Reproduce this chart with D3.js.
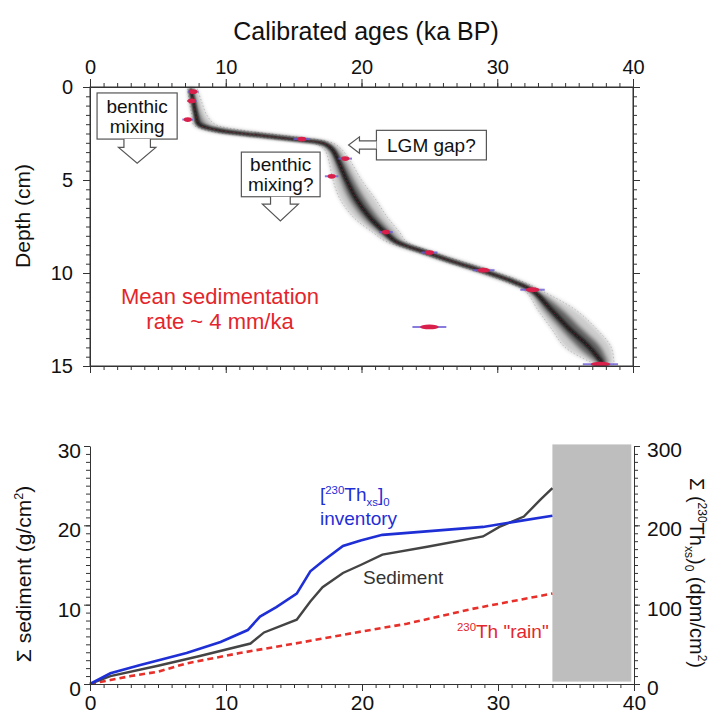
<!DOCTYPE html>
<html>
<head>
<meta charset="utf-8">
<script src="https://cdn.jsdelivr.net/npm/d3@7"></script>
<style>
  body { margin: 0; background: #fff; }
  text { font-family: "Liberation Sans", Arial, sans-serif; }
</style>
</head>
<body>
<div id="chart"></div>
<script>
// ---- top panel: age-depth model ----
var depths  = [0.1, 0.75, 1.5, 2.0, 2.3, 2.6, 2.85, 3.05, 3.4, 4.0, 5.0, 6.0, 7.0, 7.8, 8.3, 8.9, 9.4, 9.9, 10.5, 11.0, 12.0, 13.0, 14.0, 14.9];
var ageMed  = [7.4, 7.6, 7.8, 8.0, 9.3, 12.5, 15.5, 17.3, 17.9, 18.3, 18.9, 19.6, 20.6, 21.7, 22.5, 24.8, 26.8, 29.0, 31.3, 32.7, 34.0, 35.3, 36.8, 37.8];
var ageLo95 = [7.2, 7.3, 7.5, 7.6, 8.4, 11.2, 14.5, 16.6, 17.3, 17.6, 17.9, 18.4, 19.4, 20.8, 21.8, 24.2, 26.2, 28.4, 30.7, 32.1, 33.0, 34.0, 35.0, 37.2];
var ageHi95 = [7.9, 8.2, 8.6, 9.2, 11.0, 14.2, 16.9, 18.0, 18.6, 19.2, 20.0, 21.0, 21.9, 22.8, 23.3, 25.4, 27.5, 29.7, 32.0, 33.4, 35.8, 37.3, 38.4, 38.6];
var ageLo68 = [7.3, 7.45, 7.65, 7.8, 8.9, 12.0, 15.1, 17.0, 17.6, 18.0, 18.5, 19.1, 20.1, 21.3, 22.2, 24.5, 26.5, 28.7, 31.0, 32.4, 33.5, 34.7, 36.0, 37.5];
var ageHi68 = [7.6, 7.8, 8.1, 8.5, 9.9, 13.2, 16.0, 17.6, 18.2, 18.7, 19.4, 20.2, 21.2, 22.2, 22.9, 25.1, 27.1, 29.3, 31.6, 33.0, 34.8, 36.2, 37.6, 38.2];

// radiocarbon dates (calibrated age, depth, half-width)
var dateAge   = [7.6, 7.5, 7.2, 15.6, 18.8, 17.8, 21.8, 25.0, 29.0, 32.6, 25.0, 37.6];
var dateDepth = [0.25, 0.75, 1.75, 2.8, 3.85, 4.8, 7.8, 8.9, 9.85, 10.9, 12.9, 14.9];
var dateErr   = [0.4, 0.35, 0.4, 0.6, 0.5, 0.5, 0.5, 0.6, 0.8, 0.9, 1.25, 1.3];

var ageTicks = [0, 10, 20, 30, 40];
var depthTicks = [0, 5, 10, 15];

// ---- bottom panel: cumulative inventories ----
var sedAge = [0, 1.5, 5, 8, 11.8, 12.8, 15.2, 16.2, 17.1, 18.6, 19.9, 21.5, 24.8, 28.9, 30.1, 31.9, 33.1, 34.0];
var sedSum = [0, 1.0, 2.3, 3.5, 5.1, 6.5, 8.1, 10.4, 12.2, 14.0, 15.0, 16.3, 17.3, 18.6, 19.8, 21.1, 23.2, 24.7];

var thAge = [0, 1.5, 3.7, 7.1, 9.6, 11.6, 12.5, 13.7, 15.2, 16.2, 17.2, 18.6, 19.9, 21.5, 28.9, 31.4, 34.0];
var thSum = [0, 13.5, 24, 39, 53, 68, 85, 97, 114, 142, 156, 174, 181, 188, 198, 205, 212];

var rainAge = [0, 1.5, 3, 5, 7.1, 11, 15.4, 19.9, 23.3, 28.2, 34.0];
var rainSum = [0, 5, 10, 15.5, 26, 39, 52, 66, 76, 95, 114];

var gapStart = 34.0, gapEnd = 39.8;
var sedTicks = [0, 10, 20, 30];
var thTicks = [0, 100, 200, 300];

var width = 714, height = 713;
var font = '"Liberation Sans", Arial, sans-serif';

var svg = d3.select('#chart').append('svg').
  attr('width', width).
  attr('height', height);

var defs = svg.append('defs');
defs.append('filter').attr('id', 'soft').
  attr('x', '-20%').attr('y', '-20%').attr('width', '140%').attr('height', '140%').
  append('feGaussianBlur').attr('stdDeviation', 2.2);
defs.append('filter').attr('id', 'soft2').
  append('feGaussianBlur').attr('stdDeviation', 0.9);

var xTop = d3.scaleLinear().domain([0, 40]).range([90, 633]);
var yTop = d3.scaleLinear().domain([0, 15]).range([87, 366]);
var xBot = d3.scaleLinear().domain([0, 40]).range([90, 634]);
var yBotL = d3.scaleLinear().domain([0, 30]).range([684, 446]);
var yBotR = d3.scaleLinear().domain([0, 300]).range([684, 446]);

function styleAxis(g, size) {
  g.attr('font-family', font).attr('font-size', size || 20);
  g.selectAll('path, line').attr('stroke', '#333');
  g.selectAll('text').attr('fill', '#111');
}

// draw minor + major ticks for one axis
function axisPair(axisFn, scale, minor, major, pos, labels, opts) {
  opts = opts || {};
  var gMinor = svg.append('g').attr('transform', pos).
    call(axisFn(scale).tickValues(minor).tickSize(opts.minor || 4).tickSizeOuter(0).tickFormat(''));
  gMinor.select('.domain').remove();
  var ax = axisFn(scale).tickValues(major).tickSize(opts.major || 7).tickSizeOuter(0).
    tickPadding(opts.pad || 4);
  if (!labels) ax.tickFormat('');
  var g = svg.append('g').attr('transform', pos).call(ax);
  styleAxis(g, opts.font);
  styleAxis(gMinor);
  if (opts.dy) g.selectAll('text').attr('dy', opts.dy);
  return g;
}

// ===== top panel =====
var cloud = svg.append('g');
var rows = depths.map((d, i) => ({ d: d, m: ageMed[i], lo95: ageLo95[i], hi95: ageHi95[i], lo68: ageLo68[i], hi68: ageHi68[i] }));

var band = (lo, hi) => d3.area().
  y(r => yTop(r.d)).
  x0(r => xTop(r[lo])).
  x1(r => xTop(r[hi])).
  curve(d3.curveCatmullRom);

cloud.append('path').datum(rows).
  attr('d', band('lo95', 'hi95')).
  attr('fill', '#000').attr('opacity', 0.2).
  attr('filter', 'url(#soft)');
cloud.append('path').datum(rows).
  attr('d', band('lo95', 'hi95')).
  attr('fill', 'none').attr('stroke', '#aaa').attr('stroke-width', 0.7).
  attr('stroke-dasharray', '1.5,2');
cloud.append('path').datum(rows).
  attr('d', band('lo68', 'hi68')).
  attr('fill', '#000').attr('opacity', 0.55).
  attr('filter', 'url(#soft)');
cloud.append('path').datum(rows).
  attr('d', d3.line().y(r => yTop(r.d)).x(r => xTop(r.m)).curve(d3.curveCatmullRom)).
  attr('fill', 'none').attr('stroke', '#111').attr('stroke-width', 4).attr('opacity', 0.85).
  attr('filter', 'url(#soft2)');
cloud.append('path').datum(rows).
  attr('d', d3.line().y(r => yTop(r.d)).x(r => xTop(r.m)).curve(d3.curveCatmullRom)).
  attr('fill', 'none').attr('stroke', '#c03040').attr('stroke-width', 0.6).
  attr('stroke-dasharray', '2,2').attr('opacity', 0.6);

// dates
var dates = dateAge.map((a, i) => ({ a: a, d: dateDepth[i], e: dateErr[i] }));
svg.append('g').selectAll('line').data(dates).enter().append('line').
  attr('x1', d => xTop(d.a - d.e)).
  attr('x2', d => xTop(d.a + d.e)).
  attr('y1', d => yTop(d.d)).
  attr('y2', d => yTop(d.d)).
  attr('stroke', '#6b5bd6').attr('stroke-width', 2).attr('opacity', 0.8);
svg.append('g').selectAll('ellipse').data(dates).enter().append('ellipse').
  attr('cx', d => xTop(d.a)).
  attr('cy', d => yTop(d.d)).
  attr('rx', d => Math.max(4, (xTop(d.e) - xTop(0)) * 0.55)).
  attr('ry', 2.4).
  attr('fill', '#d8204a');

// frame + axes
svg.append('rect').
  attr('x', xTop(0)).attr('y', yTop(0)).
  attr('width', xTop(40) - xTop(0)).attr('height', yTop(15) - yTop(0)).
  attr('fill', 'none').attr('stroke', '#333');

axisPair(d3.axisTop, xTop, d3.range(0, 41, 1), ageTicks, 'translate(0,' + yTop(0) + ')', true, { major: 8, pad: 5 });
axisPair(d3.axisBottom, xTop, d3.range(0, 41, 1), ageTicks, 'translate(0,' + yTop(15) + ')', false, { major: 7 });
axisPair(d3.axisLeft, yTop, d3.range(0, 15.01, 0.5), depthTicks, 'translate(' + xTop(0) + ',0)', true, { major: 7, pad: 10 });
axisPair(d3.axisRight, yTop, d3.range(0, 15.01, 0.5), depthTicks, 'translate(' + xTop(40) + ',0)', false, { major: 7 });

svg.append('text').
  attr('x', 366).attr('y', 40).
  attr('text-anchor', 'middle').
  attr('font-size', 25).attr('fill', '#111').
  text('Calibrated ages (ka BP)');

svg.append('text').
  attr('transform', 'translate(30,216) rotate(-90)').
  attr('text-anchor', 'middle').
  attr('font-size', 21).attr('fill', '#111').
  text('Depth (cm)');

// annotation boxes with hollow arrows (placed in data units)
function noteBox(a0, a1, d0, d1, lines, size) {
  svg.append('rect').
    attr('x', xTop(a0)).attr('y', yTop(d0)).
    attr('width', xTop(a1) - xTop(a0)).attr('height', yTop(d1) - yTop(d0)).
    attr('fill', '#fff').attr('stroke', '#555').attr('stroke-width', 1.2);
  var cx = (xTop(a0) + xTop(a1)) / 2;
  var cy = (yTop(d0) + yTop(d1)) / 2;
  var t = svg.append('text').
    attr('x', cx).attr('y', cy - (lines.length - 1) * size * 0.52 + size * 0.36).
    attr('text-anchor', 'middle').attr('font-size', size).attr('fill', '#111');
  lines.forEach((l, i) => t.append('tspan').attr('x', cx).attr('dy', i ? size * 1.04 : 0).text(l));
}

function downArrow(s0, s1, h0, h1, top, neck, tip) {
  var tipAge = (s0 + s1) / 2;
  var pts = [[s0, top], [s0, neck], [h0, neck], [tipAge, tip], [h1, neck], [s1, neck], [s1, top]];
  svg.append('path').
    attr('d', d3.line().x(p => xTop(p[0])).y(p => yTop(p[1]))(pts)).
    attr('fill', '#fff').attr('stroke', '#555').attr('stroke-width', 1.2);
}

noteBox(0.52, 6.42, 0.32, 2.8, ['benthic', 'mixing'], 19);
downArrow(2.5, 4.45, 2.1, 4.85, 2.8, 3.25, 4.1);

noteBox(11.15, 16.95, 3.5, 5.9, ['benthic', 'mixing?'], 19);
downArrow(13.3, 14.75, 12.7, 15.35, 5.9, 6.3, 7.2);

noteBox(21.1, 29.2, 2.33, 3.92, ['LGM gap?'], 19);
(function () {
  var pts = [[21.1, 2.9], [19.85, 2.9], [19.85, 2.68], [19.05, 3.12], [19.85, 3.56], [19.85, 3.34], [21.1, 3.34]];
  svg.append('path').
    attr('d', d3.line().x(p => xTop(p[0])).y(p => yTop(p[1]))(pts)).
    attr('fill', '#fff').attr('stroke', '#555').attr('stroke-width', 1.2);
})();

var red = svg.append('text').
  attr('text-anchor', 'middle').attr('font-size', 22).attr('fill', '#e3262c');
red.append('tspan').attr('x', 220).attr('y', 304).text('Mean sedimentation');
red.append('tspan').attr('x', 220).attr('y', 329).text('rate ~ 4 mm/ka');

// ===== bottom panel =====
svg.append('rect').
  attr('x', xBot(gapStart)).attr('y', yBotL(30.2)).
  attr('width', xBot(gapEnd) - xBot(gapStart)).
  attr('height', yBotL(0.3) - yBotL(30.2)).
  attr('fill', '#bebebe');

var lineSed = d3.line().x((d, i) => xBot(sedAge[i])).y(d => yBotL(d));
var lineTh = d3.line().x((d, i) => xBot(thAge[i])).y(d => yBotR(d));
var lineRain = d3.line().x((d, i) => xBot(rainAge[i])).y(d => yBotR(d));

svg.append('path').datum(rainSum).attr('d', lineRain).
  attr('fill', 'none').attr('stroke', '#e8302a').attr('stroke-width', 2.6).
  attr('stroke-dasharray', '6,4');
svg.append('path').datum(sedSum).attr('d', lineSed).
  attr('fill', 'none').attr('stroke', '#444').attr('stroke-width', 2.4);
svg.append('path').datum(thSum).attr('d', lineTh).
  attr('fill', 'none').attr('stroke', '#1f2fd6').attr('stroke-width', 2.6);

axisPair(d3.axisLeft, yBotL, d3.range(0, 31, 1), sedTicks, 'translate(' + xBot(0) + ',0)', true, { major: 6, pad: 3, dy: '0.55em', font: 21 });
axisPair(d3.axisRight, yBotR, d3.range(0, 301, 10), thTicks, 'translate(' + xBot(40) + ',0)', true, { major: 6, pad: 7, dy: '0.5em', font: 21 });
axisPair(d3.axisBottom, xBot, d3.range(0, 41, 1), ageTicks, 'translate(0,' + yBotL(0) + ')', true, { major: 7, pad: 4, font: 21 });

function richText(sel, parts, size) {
  var shift = 0;
  parts.forEach(p => {
    var target = p[1] == 'sup' ? -0.38 * size : p[1] == 'sub' ? 0.25 * size : 0;
    sel.append('tspan').
      attr('dy', target - shift).
      attr('font-size', p[1] ? size * 0.6 : size).
      text(p[0]);
    shift = target;
  });
}

var thLabel = svg.append('text').attr('x', 320).attr('y', 501).attr('fill', '#1f2fd6').attr('font-size', 19);
richText(thLabel, [['[', ''], ['230', 'sup'], ['Th', ''], ['xs', 'sub'], [']', ''], ['0', 'sub']], 19);
svg.append('text').attr('x', 320).attr('y', 525).attr('fill', '#1f2fd6').attr('font-size', 19).text('inventory');

svg.append('text').attr('x', 363).attr('y', 584).attr('fill', '#333').attr('font-size', 19).text('Sediment');

var rainLabel = svg.append('text').attr('x', 457).attr('y', 638).attr('fill', '#e3262c').attr('font-size', 19);
richText(rainLabel, [['230', 'sup'], ['Th "rain"', '']], 19);

var leftLabel = svg.append('text').
  attr('transform', 'translate(31,574) rotate(-90)').
  attr('text-anchor', 'middle').attr('fill', '#111').attr('font-size', 21);
richText(leftLabel, [['Σ sediment (g/cm', ''], ['2', 'sup'], [')', '']], 21);

var rightLabel = svg.append('text').
  attr('transform', 'translate(690,573) rotate(90)').
  attr('text-anchor', 'middle').attr('fill', '#111').attr('font-size', 20);
richText(rightLabel, [['Σ (', ''], ['230', 'sup'], ['Th', ''], ['xs', 'sub'], [')', ''], ['0', 'sub'], [' (dpm/cm', ''], ['2', 'sup'], [')', '']], 20);
</script>
</body>
</html>
